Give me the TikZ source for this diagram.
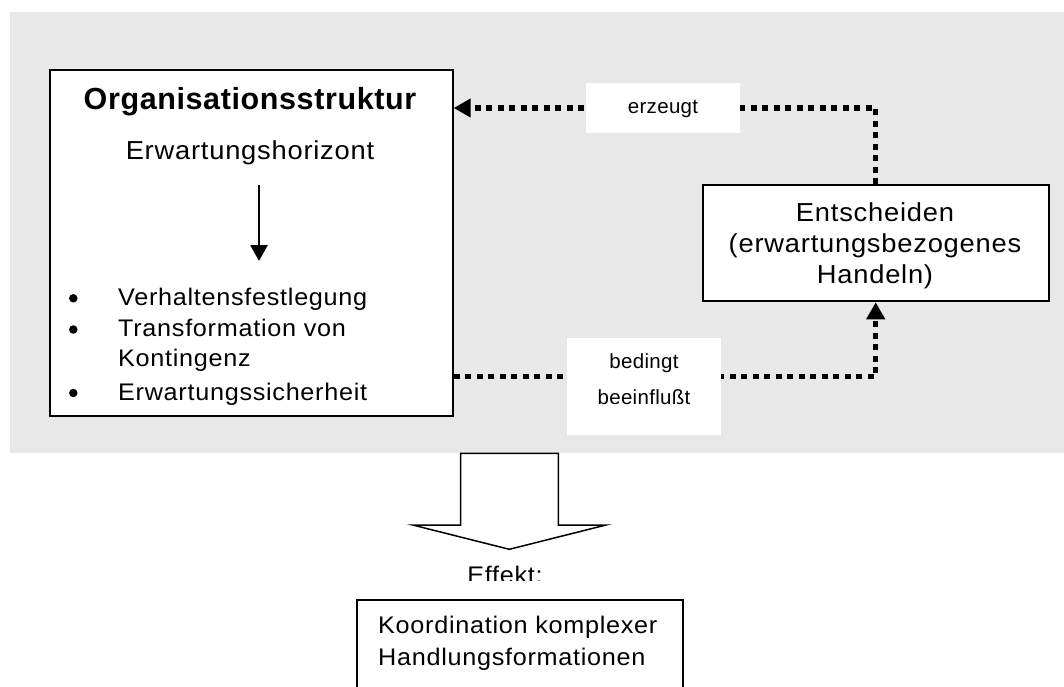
\documentclass[tikz,border=0pt]{standalone}
\usepackage{fontspec}
\setmainfont{Liberation Sans}
\newfontfamily\bodyfont[LetterSpace=3,FakeStretch=1.05]{Liberation Sans}
\newfontfamily\leadfont[LetterSpace=3,FakeStretch=1.05]{Liberation Sans}
\newfontfamily\labelfont[LetterSpace=1.5]{Liberation Sans}
\newfontfamily\headfont[LetterSpace=2]{Liberation Sans}
\usetikzlibrary{arrows.meta}
\definecolor{panel}{RGB}{232,232,232}

\begin{document}
\begin{tikzpicture}[x=1pt,y=-1pt,
  framebox/.style={draw, line width=2pt, fill=white, inner sep=0pt, anchor=north west},
  tagbox/.style={fill=white, inner sep=0pt, anchor=north west},
  body/.style={inner sep=0pt, anchor=base, font=\bodyfont\fontsize{24}{28}\selectfont},
  bodyleft/.style={body, anchor=base west},
  lead/.style={inner sep=0pt, anchor=base, font=\leadfont\fontsize{26}{30}\selectfont},
  tag/.style={inner sep=0pt, anchor=base, font=\labelfont\fontsize{20.5}{24}\selectfont},
  dot/.style={circle, fill, inner sep=0pt, minimum size=8.5pt},
  dotlink/.style={line width=5.5pt, dash pattern=on 6pt off 5.5pt},
  dottip/.style={-{Triangle[length=17pt,width=18pt]}},
]
\useasboundingbox (0,0) rectangle (1064,687);

% grey panel behind the upper part
\fill[panel] (10,12) rectangle (1064,453);

% boxes
\node[framebox, minimum width=403pt, minimum height=346pt] (org) at (48.7,69) {};
\node[framebox, minimum width=346pt, minimum height=116pt] (ent) at (701.7,184.3) {};
\node[framebox, minimum width=326pt, minimum height=120pt] (koo) at (356,599) {};

% contents of the structure box
\node[inner sep=0pt, anchor=base, font=\headfont\bfseries\fontsize{30.5}{34}\selectfont] (title) at (250,109.3) {Organisationsstruktur};
\node[lead] (horiz) at (250,160) {Erwartungshorizont};
\coordinate (ia) at (259,185);
\coordinate (ib) at (259,261);
\draw[line width=2.8pt, -{Triangle[length=16pt,width=17pt]}] (ia) -- (ib);

\node[dot] (b1) at (73.3,298.3) {};
\node[bodyleft] (l1) at (118,305) {Verhaltensfestlegung};
\node[dot] (b2) at (73.3,329.5) {};
\node[bodyleft] (l2) at (118,336.5) {Transformation von};
\node[bodyleft] (l3) at (118,366.5) {Kontingenz};
\node[dot] (b3) at (73.3,393) {};
\node[bodyleft] (l4) at (118,400) {Erwartungssicherheit};

% contents of the decision box
\node[lead] (e1) at (875,221.7) {Entscheiden};
\node[lead] (e2) at (875,252.5) {(erwartungsbezogenes};
\node[lead] (e3) at (875,283.3) {Handeln)};

% dotted feedback loop
\coordinate (toprow) at (0,108);
\coordinate (lowrow) at (0,376.7);
\draw[dotlink, dottip] (ent.north) |- (org.east |- toprow);
\draw[dotlink, dottip] (org.east |- lowrow) -| (ent.south);

% labels on the loop
\node[tagbox, minimum width=154pt, minimum height=50pt] (erz) at (586,83) {};
\node[tag] (erzt) at (663,113.3) {erzeugt};
\node[tagbox, minimum width=154pt, minimum height=97pt] (bed) at (567,338) {};
\node[tag] (bed1) at (644,368.3) {bedingt};
\node[tag] (bed2) at (644,404) {beeinflußt};

% block arrow towards the effect
\draw[line width=1.5pt, fill=white, line join=miter]
  (460.7,453.3) -- (460.7,525) -- (412.7,525) -- (509.3,549.3)
  -- (606,525) -- (558.3,525) -- (558.3,453.3) -- cycle;

\begin{scope}
  \clip (400,550) rectangle (620,580.5);
  \node[body] (eff) at (505,583) {Effekt:};
\end{scope}

% contents of the effect box
\node[bodyleft] (k1) at (378,633) {Koordination komplexer};
\node[bodyleft] (k2) at (378,665) {Handlungsformationen};
\end{tikzpicture}
\end{document}
